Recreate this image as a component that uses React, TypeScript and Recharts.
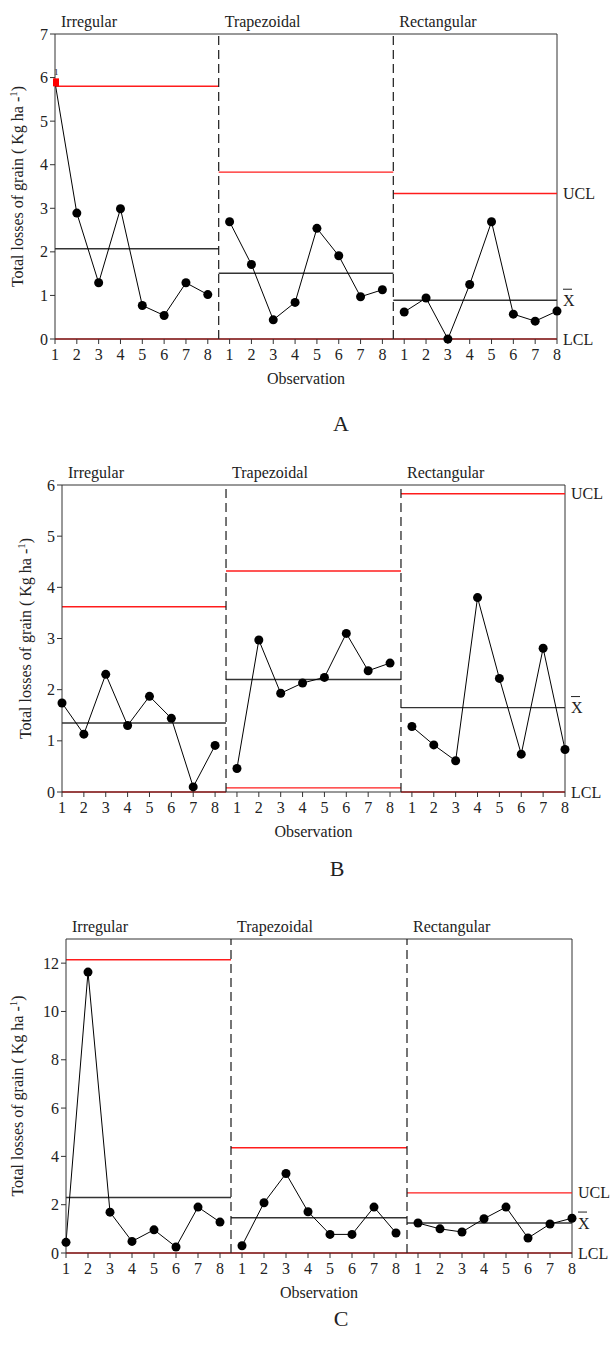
import React from 'react';
import { ComposedChart, Line, XAxis, YAxis, ReferenceLine, ReferenceDot } from 'recharts';

const FONT = '"Liberation Serif", "Times New Roman", serif';
const TEXT = '#222';
const RED = '#ff1c1c';

// tick labels / categories
const obsLabels = ['1', '2', '3', '4', '5', '6', '7', '8'];
const shapes = ['Irregular', 'Trapezoidal', 'Rectangular'];

// panel A
const aIrregular = [5.89, 2.89, 1.29, 2.99, 0.77, 0.54, 1.29, 1.02];
const aTrapezoidal = [2.69, 1.71, 0.44, 0.84, 2.54, 1.91, 0.97, 1.13];
const aRectangular = [0.62, 0.94, 0.0, 1.25, 2.69, 0.57, 0.41, 0.64];
const aUCL = [5.8, 3.83, 3.34];
const aMean = [2.07, 1.51, 0.89];
const aLCL = [0, 0, 0];
const aTicks = [0, 1, 2, 3, 4, 5, 6, 7];
const aFlagged = [0]; // out-of-control point (test 1)

// panel B
const bIrregular = [1.74, 1.13, 2.3, 1.3, 1.87, 1.44, 0.1, 0.91];
const bTrapezoidal = [0.46, 2.97, 1.93, 2.13, 2.24, 3.1, 2.37, 2.52];
const bRectangular = [1.28, 0.92, 0.61, 3.8, 2.22, 0.74, 2.81, 0.83];
const bUCL = [3.62, 4.32, 5.83];
const bMean = [1.35, 2.2, 1.65];
const bLCL = [0, 0.08, 0];
const bTicks = [0, 1, 2, 3, 4, 5, 6];

// panel C
const cIrregular = [0.44, 11.63, 1.69, 0.48, 0.96, 0.25, 1.9, 1.28];
const cTrapezoidal = [0.3, 2.08, 3.29, 1.71, 0.77, 0.77, 1.9, 0.83];
const cRectangular = [1.24, 1.0, 0.87, 1.42, 1.9, 0.62, 1.2, 1.44];
const cUCL = [12.14, 4.36, 2.49];
const cMean = [2.3, 1.46, 1.24];
const cLCL = [0, 0, 0];
const cTicks = [0, 2, 4, 6, 8, 10, 12];

const N = obsLabels.length;
const LAST = N * 3 - 1;
const xTicks = Array.from({ length: N * 3 }, (_, i) => i);
const segStart = [0, N - 0.5, 2 * N - 0.5];
const segEnd = [N - 0.5, 2 * N - 0.5, LAST];

const TOP_PAD = 34;
const AXIS_H = 60;

const buildRows = (irr: number[], trap: number[], rect: number[]) =>
  xTicks.map((i) => ({
    i,
    irr: i < N ? irr[i] : null,
    trap: i >= N && i < 2 * N ? trap[i - N] : null,
    rect: i >= 2 * N ? rect[i - 2 * N] : null,
  }));

const XTick = ({ x, y, payload }: any) => (
  <text x={x} y={y + 16} textAnchor="middle" fontSize={16} fill={TEXT} fontFamily={FONT}>
    {obsLabels[payload.value % N]}
  </text>
);

const YTick = ({ x, y, payload }: any) => (
  <text x={x} y={y + 5.5} textAnchor="end" fontSize={16} fill={TEXT} fontFamily={FONT}>
    {payload.value}
  </text>
);

const GroupTitle = ({ viewBox, text }: any) => (
  <text x={viewBox.x + 6} y={viewBox.y - 7} fontSize={16} fill={TEXT} fontFamily={FONT}>
    {text}
  </text>
);

const SideLabel = ({ viewBox, text, bar }: any) => {
  const x = viewBox.x + viewBox.width + 6;
  const y = viewBox.y + viewBox.height / 2;
  return (
    <g>
      {bar && <line x1={x} x2={x + 9} y1={y - 11} y2={y - 11} stroke={TEXT} strokeWidth={1} />}
      <text x={x} y={y + 5.5} fontSize={16} fill={TEXT} fontFamily={FONT}>
        {text}
      </text>
    </g>
  );
};

const ObsTitle = ({ viewBox }: any) => (
  <text x={viewBox.x + viewBox.width / 2} y={viewBox.y + 45} textAnchor="middle" fontSize={16} fill={TEXT} fontFamily={FONT}>
    Observation
  </text>
);

const YTitle = ({ viewBox, labelX }: any) => {
  const cy = viewBox.y + viewBox.height / 2;
  return (
    <text transform={`rotate(-90 ${labelX} ${cy})`} x={labelX} y={cy} textAnchor="middle" fontSize={16} fill={TEXT} fontFamily={FONT}>
      Total losses of grain ( Kg ha -<tspan dy={-6} fontSize={11}>1</tspan>
      <tspan dy={6}>)</tspan>
    </text>
  );
};

const makeDot = (flagged: number[]) => (props: any) => {
  const { cx, cy, index } = props;
  if (cx == null || cy == null) return <g key={`d${index}`} />;
  if (flagged.includes(index)) {
    return (
      <g key={`d${index}`}>
        <rect x={cx - 2} y={cy - 4} width={6} height={8} fill="#f00" />
        <text x={cx - 1} y={cy - 7} fontSize={9} fill={TEXT} fontFamily={FONT}>1</text>
      </g>
    );
  }
  return <circle key={`d${index}`} cx={cx} cy={cy} r={4.5} fill="#000" />;
};

type Panel = {
  irregular: number[];
  trapezoidal: number[];
  rectangular: number[];
  ucl: number[];
  mean: number[];
  lcl: number[];
  yTicks: number[];
  yMax: number;
  flagged: number[];
  top: number;
  bottom: number;
  left: number;
  right: number;
  yLabelX: number;
  letter: string;
  letterX: number;
  letterY: number;
};

const panels: Panel[] = [
  {
    irregular: aIrregular, trapezoidal: aTrapezoidal, rectangular: aRectangular,
    ucl: aUCL, mean: aMean, lcl: aLCL, yTicks: aTicks, yMax: 7, flagged: aFlagged,
    top: 34, bottom: 339, left: 55, right: 557, yLabelX: 23, letter: 'A', letterX: 341, letterY: 431,
  },
  {
    irregular: bIrregular, trapezoidal: bTrapezoidal, rectangular: bRectangular,
    ucl: bUCL, mean: bMean, lcl: bLCL, yTicks: bTicks, yMax: 6, flagged: [],
    top: 485, bottom: 792, left: 62, right: 565, yLabelX: 31, letter: 'B', letterX: 337, letterY: 876,
  },
  {
    irregular: cIrregular, trapezoidal: cTrapezoidal, rectangular: cRectangular,
    ucl: cUCL, mean: cMean, lcl: cLCL, yTicks: cTicks, yMax: 13, flagged: [],
    top: 939, bottom: 1253, left: 66, right: 572, yLabelX: 23, letter: 'C', letterX: 341, letterY: 1326,
  },
];

// one horizontal limit segment per shape group
const limitSegments = (vals: number[], color: string, key: string) =>
  vals.map((v, g) => (
    <ReferenceLine key={`${key}${g}`} segment={[{ x: segStart[g], y: v }, { x: segEnd[g], y: v }]} stroke={color} strokeWidth={1.4} />
  ));

const ControlChart = ({ p }: { p: Panel }) => {
  const rows = buildRows(p.irregular, p.trapezoidal, p.rectangular);
  const height = TOP_PAD + (p.bottom - p.top) + AXIS_H;
  const dot = makeDot(p.flagged);
  return (
    <div style={{ position: 'absolute', left: 0, top: p.top - TOP_PAD }}>
      <ComposedChart width={612} height={height} data={rows} margin={{ top: TOP_PAD, right: 612 - p.right, bottom: 0, left: 0 }}>
        <XAxis
          dataKey="i"
          type="number"
          domain={[0, LAST]}
          ticks={xTicks}
          interval={0}
          tickSize={5}
          tickMargin={0}
          height={AXIS_H}
          stroke="#333"
          tick={<XTick />}
          label={<ObsTitle />}
        />
        <YAxis
          type="number"
          domain={[0, p.yMax]}
          ticks={p.yTicks}
          interval={0}
          width={p.left}
          tickSize={5}
          tickMargin={2}
          stroke="#333"
          tick={<YTick />}
          label={<YTitle labelX={p.yLabelX} />}
        />
        <ReferenceLine y={p.yMax} stroke="#333" />
        <ReferenceLine x={LAST} stroke="#333" />
        {limitSegments(p.mean, '#333', 'm')}
        {limitSegments(p.ucl, RED, 'u')}
        {limitSegments(p.lcl, RED, 'l')}
        <ReferenceLine x={segEnd[0]} stroke="#1a1a1a" strokeWidth={1.2} strokeDasharray="9 5" />
        <ReferenceLine x={segEnd[1]} stroke="#1a1a1a" strokeWidth={1.2} strokeDasharray="9 5" />
        {shapes.map((s, g) => (
          <ReferenceDot key={s} x={segStart[g]} y={p.yMax} r={0} fill="none" stroke="none" label={<GroupTitle text={s} />} />
        ))}
        <ReferenceDot x={LAST} y={p.ucl[2]} r={0} fill="none" stroke="none" label={<SideLabel text="UCL" />} />
        <ReferenceDot x={LAST} y={p.mean[2]} r={0} fill="none" stroke="none" label={<SideLabel text="X" bar />} />
        <ReferenceDot x={LAST} y={p.lcl[2]} r={0} fill="none" stroke="none" label={<SideLabel text="LCL" />} />
        <Line dataKey="irr" stroke="#000" strokeWidth={1} dot={dot} activeDot={false} isAnimationActive={false} />
        <Line dataKey="trap" stroke="#000" strokeWidth={1} dot={dot} activeDot={false} isAnimationActive={false} />
        <Line dataKey="rect" stroke="#000" strokeWidth={1} dot={dot} activeDot={false} isAnimationActive={false} />
      </ComposedChart>
    </div>
  );
};

export default function App() {
  return (
    <div style={{ position: 'absolute', left: 0, top: 0, width: 612, height: 1345, background: '#fff', fontFamily: FONT }}>
      {panels.map((p) => (
        <React.Fragment key={p.letter}>
          <ControlChart p={p} />
          <div style={{ position: 'absolute', left: p.letterX - 20, width: 40, top: p.letterY - 18, textAlign: 'center', fontSize: 22, lineHeight: '22px', color: TEXT }}>
            {p.letter}
          </div>
        </React.Fragment>
      ))}
    </div>
  );
}
